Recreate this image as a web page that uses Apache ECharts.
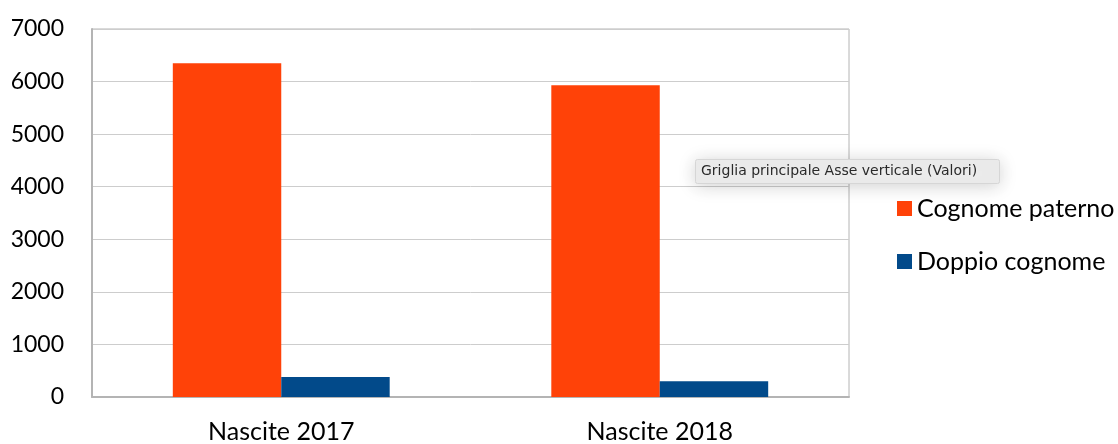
<!DOCTYPE html>
<html>
<head>
<meta charset="utf-8">
<script src="https://cdn.jsdelivr.net/npm/echarts@6/dist/echarts.min.js"></script>
<style>html,body{margin:0;padding:0;background:#fff;}#c{width:1118px;height:444px;}</style>
</head>
<body>
<div id="c"></div>
<script>
const categories = ['Nascite 2017', 'Nascite 2018'];
const seriesNames = ['Cognome paterno', 'Doppio cognome'];
const paterno = [6350, 5930];
const doppio = [380, 300];
const yTicks = [0, 1000, 2000, 3000, 4000, 5000, 6000, 7000];
const tooltipText = 'Griglia principale Asse verticale (Valori)';

const chart = echarts.init(document.getElementById('c'));
chart.setOption({
  backgroundColor: '#fff',
  animation: false,
  grid: { left: 92, right: 269, top: 29, bottom: 47, show: true, borderColor: '#b4b4b4', borderWidth: 1 },
  legend: {
    orient: 'vertical', left: 892, top: 191, itemWidth: 15, itemHeight: 15, itemGap: 28,
    icon: 'rect',
    textStyle: { fontFamily: 'Lato', fontSize: 25, color: '#000' },
    data: seriesNames
  },
  xAxis: {
    type: 'category', data: categories,
    axisLine: { lineStyle: { color: '#b4b4b4', width: 2 } },
    axisTick: { show: false },
    axisLabel: { fontFamily: 'Lato', fontSize: 25, color: '#000', margin: 22 }
  },
  yAxis: {
    type: 'value', min: yTicks[0], max: yTicks[yTicks.length - 1], interval: 1000,
    axisLine: { show: true, lineStyle: { color: '#b4b4b4', width: 2 } },
    axisTick: { show: false },
    splitLine: { lineStyle: { color: '#cdcdcd', width: 1 } },
    axisLabel: { fontFamily: 'Lato', fontSize: 23, color: '#000', margin: 28, formatter: v => String(v) }
  },
  series: [
    { name: seriesNames[0], type: 'bar', data: paterno, barGap: '0%', barCategoryGap: '42.7%',
      itemStyle: { color: '#ff4208' } },
    { name: seriesNames[1], type: 'bar', data: doppio,
      itemStyle: { color: '#024a8a' } }
  ],
  graphic: [
    { type: 'rect', left: 695, top: 159, shape: { width: 304, height: 24, r: 2 },
      style: { fill: '#ececec', stroke: '#d6d6d6', lineWidth: 1, shadowBlur: 18, shadowColor: 'rgba(0,0,0,0.18)', shadowOffsetY: 2 }, z: 100 },
    { type: 'text', x: 701, y: 171, z: 101,
      style: { text: tooltipText, fontFamily: 'DejaVu Sans', fontSize: 14, fill: '#2a2a2a', verticalAlign: 'middle' } }
  ]
});
</script>
</body>
</html>
